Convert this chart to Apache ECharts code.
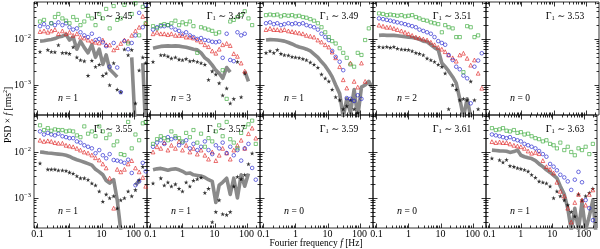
<!DOCTYPE html>
<html><head><meta charset="utf-8">
<script src="https://cdn.jsdelivr.net/npm/echarts@6/dist/echarts.min.js"></script>
<style>html,body{margin:0;padding:0;background:#fff}#c{width:600px;height:249px}</style>
</head><body><div id="c"></div>
<script>
// Fourier frequency bins [Hz]
const freq = [0.12,0.16,0.21,0.27,0.35,0.45,0.6,0.78,1.0,1.3,1.7,2.2,2.9,3.8,5,6.5,8.5,11,14,18,24,31,40,52,68,88,115,150,195,240];
const gammaLabels = ['3.45','3.47','3.49','3.51','3.53','3.55','3.57','3.59','3.61','3.63'];
const nLabels = ['1','3','1','2','0','1','1','0','0','1'];
const xTickLabels = ['0.1','1','10','100'];
const yTickLabels = ['10^-2','10^-3'];

// Γ1 ~ 3.45
const g345 = [0.024,0.026,null,0.022,0.03,0.035,0.028,0.025,0.022,0.03,0.026,0.02,0.024,0.032,0.028,0.02,0.035,0.028,0.045,0.017,0.052,0.026,0.028,0.055,0.008,0.035,0.06,0.012,0.05,0.022];
const b345 = [0.019,0.021,0.018,0.022,0.02,0.023,0.02,0.022,0.018,0.016,0.017,0.014,0.012,0.011,0.013,0.0095,0.01,0.0085,0.007,0.0025,0.0082,0.0024,0.0007,0.009,0.006,0.0082,0.012,0.037,0.018,0.055];
const r345 = [0.0145,0.015,0.014,0.015,0.016,0.013,0.015,0.013,0.014,0.012,0.013,0.011,0.0105,0.0095,0.009,0.0085,0.0082,0.0095,0.0075,0.0074,0.0058,0.0065,0.008,0.0095,0.009,0.012,0.015,0.018,0.031,0.022];
const k345 = [0.0053,null,0.0058,0.0053,0.0052,0.0074,0.005,0.005,0.0048,0.0067,0.004,0.0035,0.0033,0.0016,0.0034,0.0025,0.0028,0.0016,0.0018,0.001,0.003,0.0008,0.0007,0.006,0.0045,0.0058,0.0004,0.0021,0.004,0.003];
const m345 = [0.009,0.0092,0.0095,0.0098,0.0102,0.011,0.0115,0.0125,0.0095,0.011,0.006,0.009,0.0065,0.005,0.0075,0.004,0.006,0.0028,0.0045,0.0022,0.0018,0.0015,null,null,null,0.004,0.0001,null,0.003,0.0001];
// Γ1 ~ 3.47
const g347 = [0.019,0.017,0.02,0.021,0.02,0.022,0.025,0.02,0.023,0.021,0.024,0.019,0.005,0.018,0.017,0.016,0.015,0.013,0.014,0.0021,0.0005,0.024,0.026,0.03,0.033,0.04,0.028,0.02,null,null];
const b347 = [0.016,0.018,0.019,0.019,0.02,0.018,0.016,0.015,0.013,0.014,0.012,0.011,0.01,0.0105,0.0095,0.0092,0.0087,0.0085,0.0088,0.0039,0.013,0.0035,0.0033,0.014,0.012,0.013,null,null,null,null];
const r347 = [0.013,0.014,0.013,0.013,0.0125,0.013,0.012,0.012,0.012,0.011,0.011,0.0105,0.0095,0.0087,0.0075,0.0068,0.0055,0.0049,0.006,0.0075,0.008,0.0072,0.0048,0.0042,0.003,0.002,null,null,null,null];
const k347 = [0.0032,null,0.0045,0.0045,0.0042,0.0038,0.004,0.0036,0.0035,0.0037,0.0033,0.0034,0.0032,0.003,0.0028,0.0013,0.002,0.0017,0.0011,0.0006,0.00085,0.0004,0.0005,0.0032,0.00055,0.0018,null,null,null,null];
const m347 = [0.0063,0.0066,0.0069,0.007,0.0071,0.007,0.0071,0.007,0.0068,0.0066,0.0063,0.006,0.0058,0.005,0.0039,0.0034,0.0027,0.0021,0.0018,0.0014,0.0024,0.0019,null,null,null,0.002,0.0012,null,null,null];
// Γ1 ~ 3.49
const g349 = [0.033,0.034,0.033,0.034,0.031,0.033,0.032,0.033,0.031,0.032,0.03,0.029,0.027,0.025,0.022,0.018,0.014,0.011,0.009,0.008,0.0063,0.005,0.0039,0.0028,0.0025,0.005,0.0045,0.0095,0.017,null];
const b349 = [0.022,0.023,0.021,0.022,0.02,0.021,0.022,0.021,0.022,0.021,0.022,0.02,0.019,0.018,0.016,0.013,0.011,0.0095,0.0055,0.0041,0.0032,0.0021,0.00052,0.0005,0.00045,0.0006,0.0005,null,null,null];
const r349 = [0.016,0.017,0.016,0.016,0.0155,0.016,0.015,0.0145,0.014,0.0135,0.013,0.012,0.0115,0.011,0.0095,0.0086,0.0075,0.0067,0.0052,0.0039,0.0025,0.0013,0.00086,0.003,0.0012,0.0009,0.003,0.0012,null,null];
const k349 = [0.005,0.0055,0.005,0.0058,0.0048,0.0045,0.0044,0.0041,0.004,0.0039,0.0037,0.0035,0.0031,0.0028,0.0024,0.0017,0.0014,0.0012,0.0008,0.00055,0.00047,0.0003,0.00035,0.00047,0.0003,0.00025,null,null,null,null];
const m349 = [0.0095,0.0097,0.0096,0.0095,0.0093,0.009,0.0084,0.0078,0.0072,0.0067,0.0064,0.006,0.0055,0.0047,0.004,0.0032,0.0026,0.002,0.0015,0.001,0.00065,0.0002,0.0005,0.00025,0.0008,0.0002,0.0009,0.001,0.0012,0.0009];
// Γ1 ~ 3.51
const g351 = [0.036,0.035,0.033,0.034,0.033,0.032,0.033,0.031,0.032,0.033,0.03,0.028,0.026,0.025,0.023,0.022,0.021,0.014,0.02,0.018,0.017,0.011,0.011,0.0019,0.019,0.018,0.011,0.012,null,null];
const b351 = [0.028,0.027,0.026,0.025,0.024,0.023,0.022,0.021,0.02,0.019,0.018,0.016,0.015,0.014,0.013,0.011,0.009,0.0082,0.0075,0.0045,0.0035,0.0025,0.0022,0.0016,0.0014,0.0004,0.0025,0.0034,0.0049,null];
const r351 = [0.02,0.019,0.018,0.018,0.017,0.016,0.015,0.014,0.013,0.012,0.011,0.0105,0.01,0.0095,0.0085,0.0075,0.0066,0.006,0.0053,0.0045,0.0039,0.0033,0.0045,0.0049,0.0038,0.0027,0.0035,0.0018,0.00085,null];
const k351 = [0.0068,0.0066,0.0068,0.0065,0.0068,0.0062,0.006,0.0059,0.0058,0.0055,0.005,0.0048,0.0045,0.0038,0.0035,0.0032,0.0028,0.0025,0.0018,0.0003,0.001,0.0008,0.00047,0.0005,0.00047,0.0012,0.00047,0.0003,null,null];
const m351 = [0.012,0.0122,0.012,0.0121,0.012,0.0118,0.0115,0.0112,0.011,0.0108,0.0104,0.0098,0.009,0.0087,0.0075,0.0065,0.0058,0.003,0.0025,0.002,0.0015,0.0011,0.0005,0.0002,0.0005,0.0002,null,null,null,null];
// Γ1 ~ 3.55
const g355 = [0.038,0.03,0.033,0.029,0.031,0.03,0.03,0.028,0.029,0.028,0.023,0.021,0.036,0.025,0.028,0.022,0.036,0.028,0.02,0.024,0.014,0.017,0.009,0.0086,0.045,0.012,0.024,0.018,0.042,0.045];
const b355 = [0.028,0.024,0.026,0.024,0.023,0.025,0.022,0.021,0.02,0.02,0.017,0.016,0.014,0.013,0.012,0.0094,0.011,0.0085,0.0073,0.009,0.0067,0.0065,0.0062,0.0058,0.0068,0.0035,0.0019,0.0023,0.0058,0.0038];
const r355 = [0.018,0.017,0.0175,0.017,0.016,0.0155,0.0155,0.014,0.0135,0.013,0.012,0.011,0.01,0.0095,0.0086,0.0075,0.0067,0.0055,0.0045,0.0027,0.0006,0.0042,0.0037,0.0042,0.0055,0.0065,0.0045,0.0037,0.0028,0.0018];
const k355 = [0.0057,null,0.0042,0.0042,0.0042,0.004,0.004,0.0039,0.0036,0.0034,0.003,0.0027,0.0027,0.0025,0.0021,0.0019,0.0014,0.00084,0.0012,0.001,0.0011,0.0006,0.0009,0.001,0.0014,0.0011,0.0015,0.0025,0.0048,null];
const m355 = [0.01,0.0098,0.0095,0.0094,0.0092,0.009,0.0088,0.0085,0.008,0.0073,0.0068,0.0064,0.006,0.0056,0.0052,0.0042,0.0037,0.0032,0.0024,0.0021,0.0025,0.0009,0.0002,null,null,null,0.0019,0.0024,null,null];
// Γ1 ~ 3.57
const g357 = [0.015,0.019,0.022,0.02,0.018,0.028,0.022,0.02,0.017,0.026,0.021,0.03,0.016,0.025,0.013,0.02,0.017,0.028,0.038,0.022,0.045,0.019,0.016,0.012,0.026,0.035,0.04,0.048,0.015,null];
const b357 = [0.013,0.016,0.018,0.015,0.021,0.019,0.02,0.014,0.016,0.018,0.012,0.015,0.011,0.013,0.017,0.011,0.009,0.014,0.012,0.016,0.0095,0.013,0.0085,0.011,0.0065,0.012,0.015,0.0045,0.0025,null];
const r357 = [0.01,0.013,0.012,0.016,0.011,0.014,0.012,0.017,0.011,0.014,0.01,0.012,0.009,0.011,0.0085,0.007,0.01,0.0065,0.0085,0.012,0.0095,0.007,0.011,0.014,0.018,0.012,0.025,0.033,0.02,null];
const k357 = [0.0021,null,0.0027,0.0019,0.0022,0.0018,0.002,0.0016,0.0014,0.0022,0.0018,0.0024,0.0026,0.0028,0.0013,0.0016,0.0003,0.0005,0.0009,0.00045,0.00043,0.0005,0.0018,0.0029,0.0026,0.0032,0.0055,0.0094,null,null];
const m357 = [0.0041,0.0043,0.0044,0.0042,0.004,0.0042,0.0043,0.0041,0.0038,0.0034,0.0035,0.0032,0.0031,0.003,0.0028,0.0025,0.0023,0.0008,0.0019,0.0022,0.0027,0.0012,0.0027,0.001,0.0032,0.0018,0.0034,null,null,null];
// Γ1 ~ 3.63
const g363 = [0.033,0.03,0.031,0.033,0.029,0.028,0.03,0.026,0.027,0.024,0.025,0.022,0.02,0.019,0.017,0.018,0.015,0.014,0.012,0.016,0.011,0.013,0.01,0.0085,0.012,0.011,0.013,0.009,0.015,null];
const b363 = [0.024,0.023,0.022,0.021,0.02,0.021,0.019,0.018,0.017,0.015,0.014,0.013,0.012,0.0105,0.009,0.0079,0.0055,0.0048,0.004,0.0032,0.0028,0.0023,0.0015,0.0025,0.0037,0.0022,0.0009,0.0006,0.00033,null];
const r363 = [0.0168,0.016,0.0165,0.016,0.016,0.015,0.014,0.0135,0.013,0.012,0.0105,0.0094,0.0098,0.0092,0.0065,0.0048,0.0042,0.0035,0.0022,0.0014,0.0011,0.0006,0.0003,0.0008,0.0012,0.0009,0.0007,0.0012,0.0015,null];
const k363 = [0.0073,null,0.0067,0.006,0.0068,0.005,0.0048,0.0045,0.0043,0.0041,0.0038,0.0032,0.0028,0.0023,0.0022,0.0021,0.0018,0.001,0.0014,0.0011,0.0009,0.0007,0.0005,0.0004,0.0012,0.0009,0.0011,0.0013,0.0016,null];
const m363 = [0.011,0.0108,0.0106,0.0105,0.0104,0.0098,0.0102,0.011,0.0085,0.0079,0.0075,0.0072,0.0065,0.0055,0.0048,0.0041,0.0036,0.0031,0.0027,0.0018,0.0012,0.0006,0.0002,0.0006,0.0002,0.0008,0.0002,0.0004,0.0009,0.0002];

const panelData = [
  [g345,b345,r345,k345,m345],[g347,b347,r347,k347,m347],[g349,b349,r349,k349,m349],[g351,b351,r351,k351,m351],null,
  [g355,b355,r355,k355,m355],[g357,b357,r357,k357,m357],null,null,[g363,b363,r363,k363,m363]
];

const XMIN = 0.0778, XMAX = 264, YMIN = 2.23e-4, YMAX = 0.0637;
const COLS = [34,147,260,373,486], ROWS = [2,115], W = 113, H = 113;
const FONT = '"Liberation Serif","DejaVu Serif",serif';
const GREEN = '#35a835', BLUE = '#1c1ccc', RED = '#e02020', GRAY = '#8a8a8a';
const STAR = 'path://M0,-1L0.2245,-0.309L0.951,-0.309L0.363,0.118L0.588,0.809L0,0.382L-0.588,0.809L-0.363,0.118L-0.951,-0.309L-0.2245,-0.309Z';

function isDecade(v){ const l = Math.log10(v); return Math.abs(l - Math.round(l)) < 1e-6; }

function tickRender(params, api){
  const cs = params.coordSys;
  const ch = [];
  const st = {stroke:'#000', lineWidth:0.8};
  for (let d=-5; d<=3; d++) for (let m=1; m<=9; m++){
    const v = m*Math.pow(10,d);
    const len = m===1 ? 4.5 : 2.5;
    if (v>XMIN && v<XMAX){
      const px = Math.round(api.coord([v, YMIN])[0]) + 0.5;
      ch.push({type:'line', shape:{x1:px,y1:cs.y+cs.height,x2:px,y2:cs.y+cs.height-len}, style:st});
      ch.push({type:'line', shape:{x1:px,y1:cs.y,x2:px,y2:cs.y+len}, style:st});
    }
    if (v>YMIN && v<YMAX){
      const py = Math.round(api.coord([XMIN, v])[1]) + 0.5;
      ch.push({type:'line', shape:{x1:cs.x,y1:py,x2:cs.x+len,y2:py}, style:st});
      ch.push({type:'line', shape:{x1:cs.x+cs.width,y1:py,x2:cs.x+cs.width-len,y2:py}, style:st});
    }
  }
  return {type:'group', children:ch};
}

const grids=[], xAxes=[], yAxes=[], series=[], graphics=[];
for (let p=0; p<10; p++){
  const col = p%5, row = Math.floor(p/5);
  const L = COLS[col], T = ROWS[row];
  grids.push({left:L, top:T, width:W, height:H, show:true, borderColor:'#000', borderWidth:0.8, backgroundColor:'transparent'});
  xAxes.push({type:'log', logBase:10, gridIndex:p, min:XMIN, max:XMAX,
    axisLine:{show:false}, axisTick:{show:false}, splitLine:{show:false},
    axisLabel:{show: row===1, margin:1, fontFamily:FONT, fontSize:10, color:'#000',
      formatter: v => isDecade(v) ? xTickLabels[Math.round(Math.log10(v))+1] : ''}});
  yAxes.push({type:'log', logBase:10, gridIndex:p, min:YMIN, max:YMAX,
    axisLine:{show:false}, axisTick:{show:false}, splitLine:{show:false},
    axisLabel:{show: col===0, margin:3, color:'#000',
      formatter: v => { if(!isDecade(v)) return ''; const e = Math.round(Math.log10(v)); const t = yTickLabels[-e-2]; if(!t) return ''; const s = t.split('^'); return '{b|'+s[0]+'}{s|'+s[1].replace('-','\u2212')+'}'; },
      rich:{b:{fontFamily:FONT,fontSize:10,lineHeight:13,color:'#000'}, s:{fontFamily:FONT,fontSize:6.5,lineHeight:7,verticalAlign:'top',color:'#000'}}}});
  series.push({type:'custom', xAxisIndex:p, yAxisIndex:p, renderItem:tickRender, data:[[1,0.01]], silent:true, z:10, clip:false});
  const pd = panelData[p];
  if (pd){
    const [g,b,r,k,m] = pd;
    series.push({type:'line', xAxisIndex:p, yAxisIndex:p, data: freq.map((f,i)=>[f, m[i]==null?'-':m[i]]), showSymbol:false, symbol:'none', connectNulls:false,
      lineStyle:{color:GRAY, width:3.6, join:'round'}, z:2, silent:true, clip:true});
    const sc = (arr, sym, size, color, filled, z) => ({type:'scatter', xAxisIndex:p, yAxisIndex:p,
      data: freq.map((f,i)=>[f, arr[i]]).filter(d=>d[1]!=null), symbol:sym, symbolSize:size, silent:true, z:z, clip:true,
      itemStyle: filled ? {color:color} : {color:'rgba(255,255,255,0)', borderColor:color, borderWidth:0.8}});
    series.push(sc(k, STAR, 4.6, '#000', true, 3));
    series.push(sc(r, 'triangle', 3.8, RED, false, 4));
    series.push(sc(b, 'circle', 3.6, BLUE, false, 5));
    series.push(sc(g, 'rect', 3.2, GREEN, false, 6));
  }
  graphics.push({type:'text', x:L+79, y:T+14, z:20, style:{text:'{g|Γ}{u|1}{t| ∼ '+gammaLabels[p]+'}', align:'center', verticalAlign:'middle',
    rich:{g:{fontFamily:FONT,fontSize:10,lineHeight:12,fill:'#000'}, u:{fontFamily:FONT,fontSize:6.5,lineHeight:7,verticalAlign:'bottom',fill:'#000'}, t:{fontFamily:FONT,fontSize:9.5,lineHeight:12,fill:'#000'}}}});
  graphics.push({type:'text', x:L+34, y:T+96, z:20, style:{text:'{i|n}{t| = '+nLabels[p]+'}', align:'center', verticalAlign:'middle',
    rich:{i:{fontFamily:FONT,fontStyle:'italic',fontSize:10,fill:'#000'}, t:{fontFamily:FONT,fontSize:9.5,fill:'#000'}}}});
}
graphics.push({type:'text', x:8, y:115, rotation:Math.PI/2, z:20, style:{text:'{t|PSD × }{i|f}{t| [rms}{s|2}{t|]}', align:'center', verticalAlign:'middle',
  rich:{t:{fontFamily:FONT,fontSize:9.5,lineHeight:12,fill:'#000'}, i:{fontFamily:FONT,fontStyle:'italic',fontSize:9.5,lineHeight:12,fill:'#000'}, s:{fontFamily:FONT,fontSize:6,lineHeight:7,verticalAlign:'top',fill:'#000'}}}});
graphics.push({type:'text', x:316, y:243, z:20, style:{text:'{t|Fourier frequency }{i|f}{t| [Hz]}', align:'center', verticalAlign:'middle',
  rich:{t:{fontFamily:FONT,fontSize:9.5,fill:'#000'}, i:{fontFamily:FONT,fontStyle:'italic',fontSize:9.5,fill:'#000'}}}});

const chart = echarts.init(document.getElementById('c'), null, {renderer:'canvas'});
chart.setOption({animation:false, backgroundColor:'#fff', grid:grids, xAxis:xAxes, yAxis:yAxes, series:series, graphic:graphics});
</script></body></html>
